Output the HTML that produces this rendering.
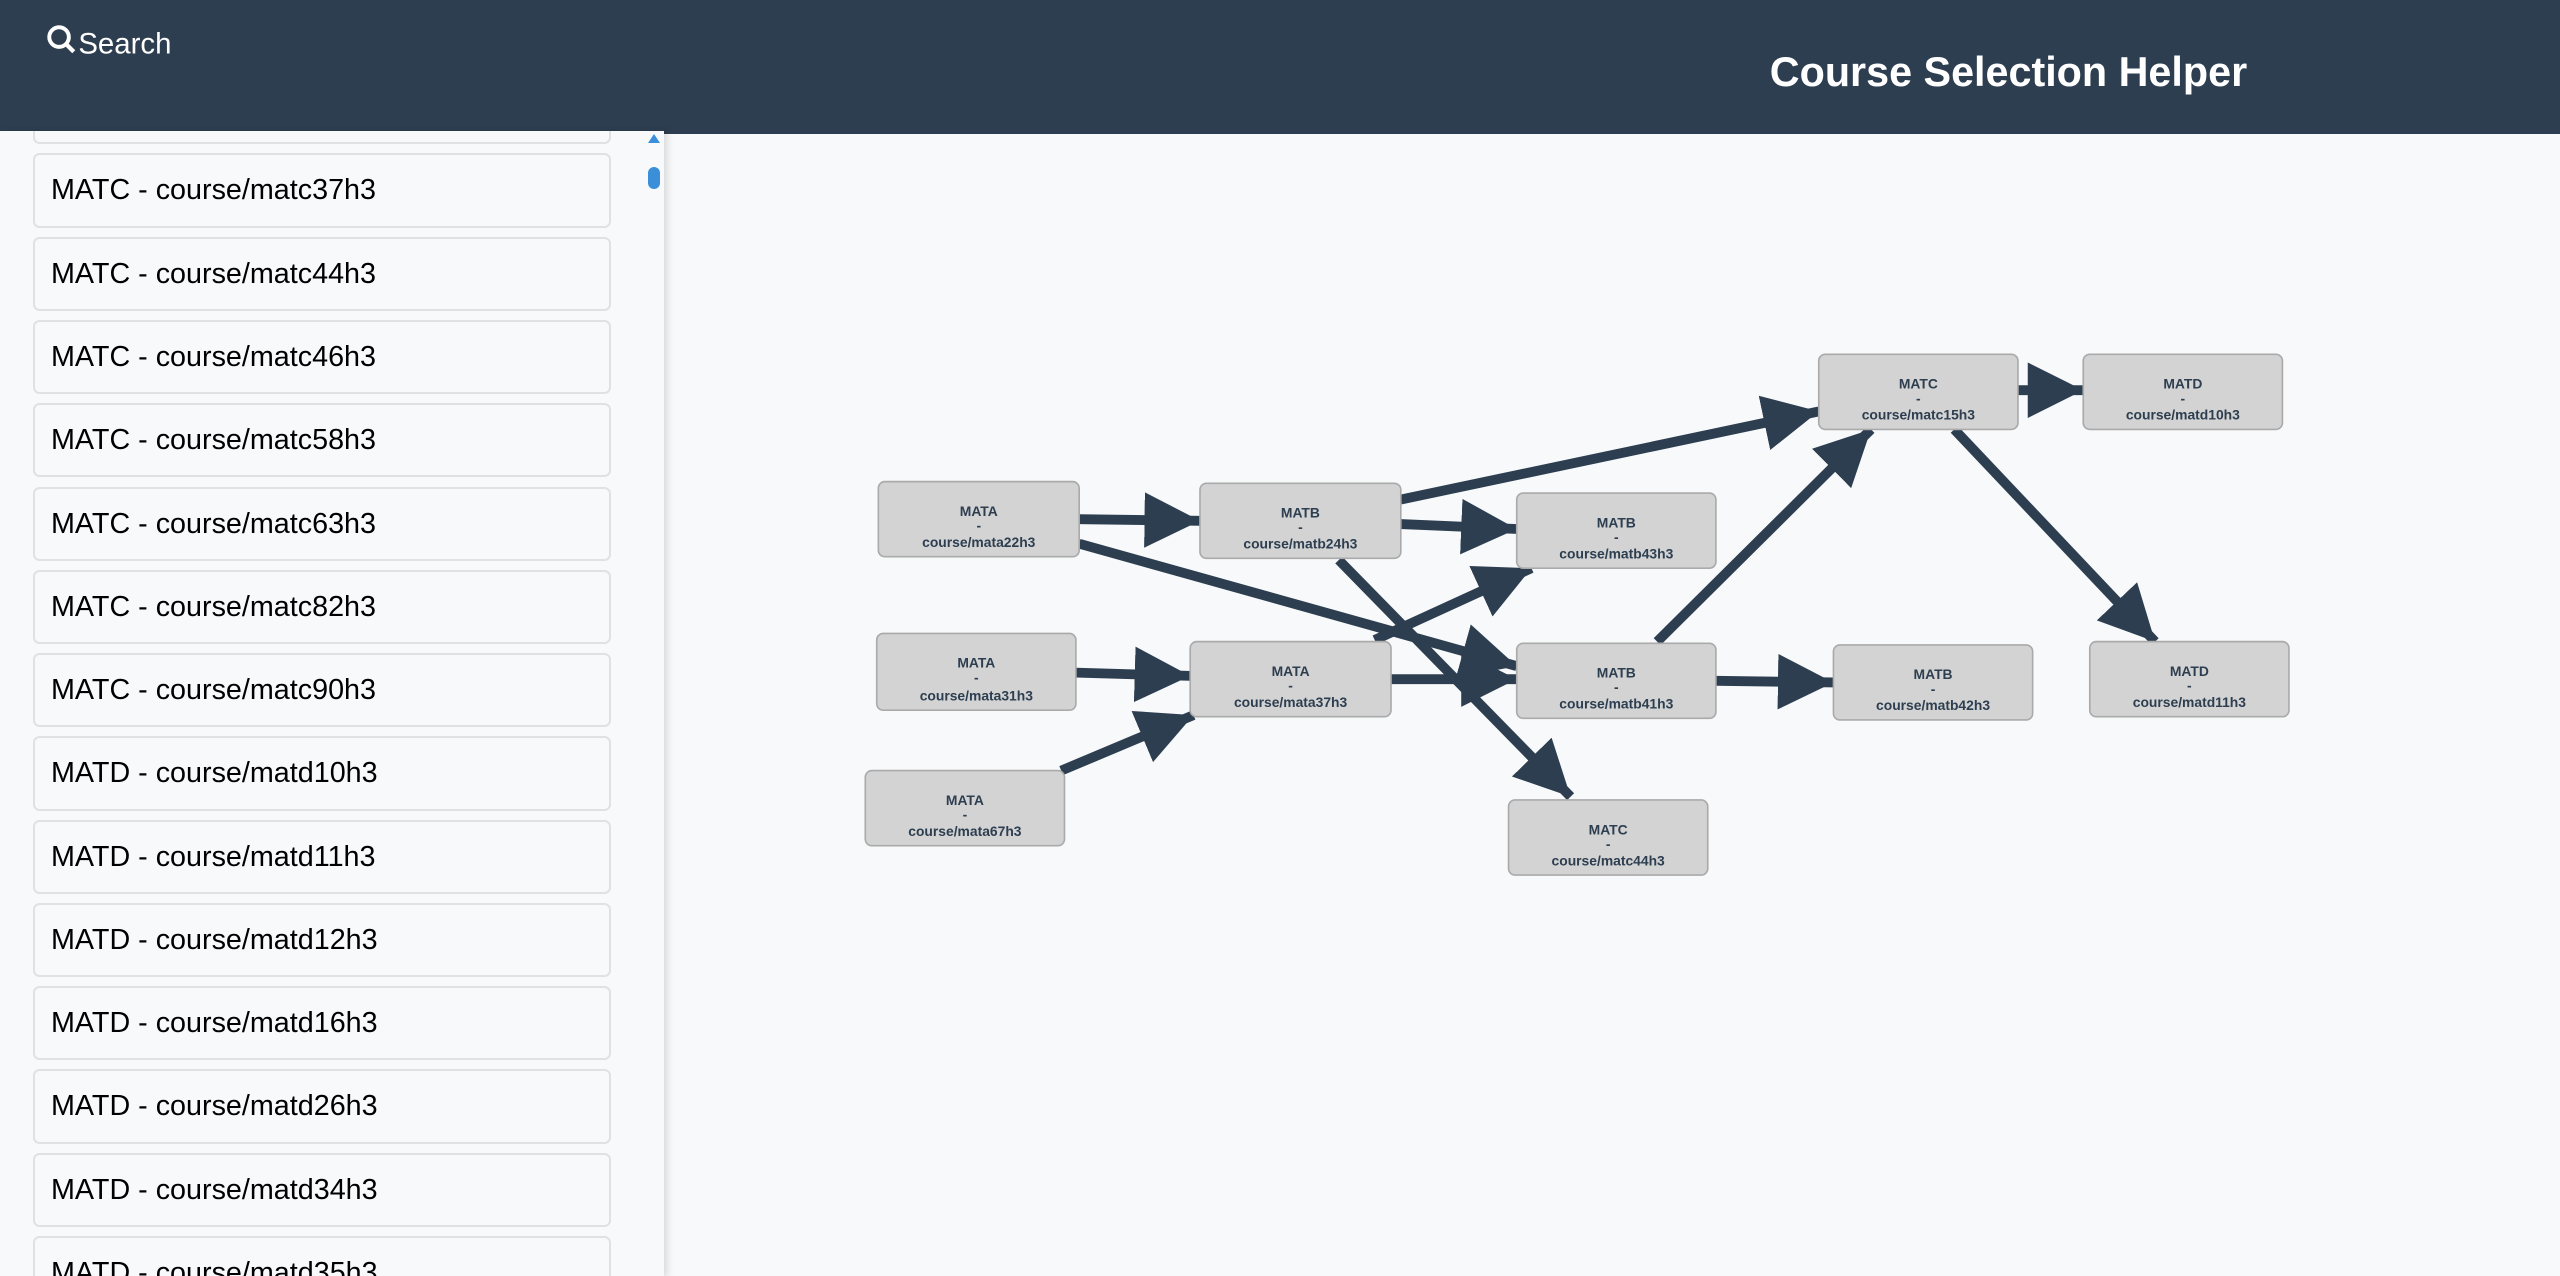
<!DOCTYPE html>
<html><head><meta charset="utf-8"><style>
html,body{margin:0;padding:0;width:2560px;height:1276px;overflow:hidden;background:#f7f9fa;font-family:"Liberation Sans",sans-serif}
#root{position:relative;width:1568px;height:782px;zoom:1.63265;background:#f7f9fa}
#hdr{position:absolute;left:0;top:0;width:1568px;height:82px;background:#2d3e50}
#search{position:absolute;left:28px;top:15px;color:#fff;font-size:18px}
#title{position:absolute;left:1084px;top:30px;color:#fff;font-size:25.3px;font-weight:bold}
#side{position:absolute;left:0;top:80px;width:407px;height:702px;background:#f7f9fa;box-shadow:2px 0 4px rgba(0,0,0,.12);overflow:hidden}
.it{position:absolute;left:20px;width:342px;height:43px;border:1.5px solid #dfe1e5;border-radius:4px;background:#f8f9fa;font-size:17.6px;line-height:43px;color:#000;padding-left:10px;box-sizing:content-box}
#thumb{position:absolute;left:397px;top:102px;width:7px;height:14px;background:#3a8fd8;border-radius:4px}
#tri{position:absolute;left:397px;top:82px;width:0;height:0;border-left:4px solid transparent;border-right:4px solid transparent;border-bottom:6px solid #3a8fd8}
svg{position:absolute;left:0;top:0}
.n{fill:#d3d3d3;stroke:#aaa;stroke-width:1}
.t{font-family:"Liberation Sans",sans-serif;font-size:8.5px;font-weight:bold;fill:#2d3e50;text-anchor:middle}
</style></head><body><div id="root">
<div id="hdr"></div>
<div id="search"><svg width="20" height="20" style="position:relative;display:inline-block;vertical-align:-2px"><circle cx="8" cy="8" r="6" fill="none" stroke="#fff" stroke-width="2.4"/><line x1="12.5" y1="12.5" x2="17" y2="17" stroke="#fff" stroke-width="2.6"/></svg>Search</div>
<div id="title">Course Selection Helper</div>
<div id="side">
<div class="it" style="top:-37px"></div>
<div class="it" style="top:14px">MATC - course/matc37h3</div>
<div class="it" style="top:65px">MATC - course/matc44h3</div>
<div class="it" style="top:116px">MATC - course/matc46h3</div>
<div class="it" style="top:167px">MATC - course/matc58h3</div>
<div class="it" style="top:218px">MATC - course/matc63h3</div>
<div class="it" style="top:269px">MATC - course/matc82h3</div>
<div class="it" style="top:320px">MATC - course/matc90h3</div>
<div class="it" style="top:371px">MATD - course/matd10h3</div>
<div class="it" style="top:422px">MATD - course/matd11h3</div>
<div class="it" style="top:473px">MATD - course/matd12h3</div>
<div class="it" style="top:524px">MATD - course/matd16h3</div>
<div class="it" style="top:575px">MATD - course/matd26h3</div>
<div class="it" style="top:626px">MATD - course/matd34h3</div>
<div class="it" style="top:677px">MATD - course/matd35h3</div>
</div>
<div id="tri"></div><div id="thumb"></div>
<svg width="1568" height="782" viewBox="0 0 1568 782" style="pointer-events:none">
<defs><marker id="a" markerUnits="userSpaceOnUse" markerWidth="36" markerHeight="36" refX="34" refY="17" orient="auto"><path d="M0,0 L34,17 L0,34 Z" fill="#2d3e50"/></marker></defs>
<g stroke="#2d3e50" stroke-width="6" marker-end="url(#a)">
<line x1="661" y1="318" x2="735" y2="319"/>
<line x1="661" y1="333" x2="929" y2="408"/>
<line x1="858" y1="321" x2="929" y2="324"/>
<line x1="858" y1="306" x2="1114" y2="252"/>
<line x1="820" y1="343" x2="962" y2="488"/>
<line x1="659" y1="412" x2="729" y2="414"/>
<line x1="650" y1="472" x2="731" y2="438"/>
<line x1="842" y1="392" x2="938" y2="348"/>
<line x1="852" y1="416" x2="929" y2="416"/>
<line x1="1051" y1="417" x2="1123" y2="418"/>
<line x1="1015" y1="393" x2="1146" y2="263"/>
<line x1="1236" y1="239" x2="1276" y2="239"/>
<line x1="1197" y1="263" x2="1320" y2="393"/>
</g>
<g>
<rect class="n" x="538" y="295" width="123" height="46" rx="4"/><text class="t" x="599.5" y="316">MATA</text><text class="t" x="599.5" y="325">-</text><text class="t" x="599.5" y="335">course/mata22h3</text>
<rect class="n" x="735" y="296" width="123" height="46" rx="4"/><text class="t" x="796.5" y="317">MATB</text><text class="t" x="796.5" y="326">-</text><text class="t" x="796.5" y="336">course/matb24h3</text>
<rect class="n" x="929" y="302" width="122" height="46" rx="4"/><text class="t" x="990" y="323">MATB</text><text class="t" x="990" y="332">-</text><text class="t" x="990" y="342">course/matb43h3</text>
<rect class="n" x="537" y="388" width="122" height="47" rx="4"/><text class="t" x="598" y="409">MATA</text><text class="t" x="598" y="418">-</text><text class="t" x="598" y="429">course/mata31h3</text>
<rect class="n" x="729" y="393" width="123" height="46" rx="4"/><text class="t" x="790.5" y="414">MATA</text><text class="t" x="790.5" y="423">-</text><text class="t" x="790.5" y="433">course/mata37h3</text>
<rect class="n" x="929" y="394" width="122" height="46" rx="4"/><text class="t" x="990" y="415">MATB</text><text class="t" x="990" y="424">-</text><text class="t" x="990" y="434">course/matb41h3</text>
<rect class="n" x="1123" y="395" width="122" height="46" rx="4"/><text class="t" x="1184" y="416">MATB</text><text class="t" x="1184" y="425">-</text><text class="t" x="1184" y="435">course/matb42h3</text>
<rect class="n" x="530" y="472" width="122" height="46" rx="4"/><text class="t" x="591" y="493">MATA</text><text class="t" x="591" y="502">-</text><text class="t" x="591" y="512">course/mata67h3</text>
<rect class="n" x="924" y="490" width="122" height="46" rx="4"/><text class="t" x="985" y="511">MATC</text><text class="t" x="985" y="520">-</text><text class="t" x="985" y="530">course/matc44h3</text>
<rect class="n" x="1114" y="217" width="122" height="46" rx="4"/><text class="t" x="1175" y="238">MATC</text><text class="t" x="1175" y="247">-</text><text class="t" x="1175" y="257">course/matc15h3</text>
<rect class="n" x="1276" y="217" width="122" height="46" rx="4"/><text class="t" x="1337" y="238">MATD</text><text class="t" x="1337" y="247">-</text><text class="t" x="1337" y="257">course/matd10h3</text>
<rect class="n" x="1280" y="393" width="122" height="46" rx="4"/><text class="t" x="1341" y="414">MATD</text><text class="t" x="1341" y="423">-</text><text class="t" x="1341" y="433">course/matd11h3</text>
</g>
</svg>
</div></body></html>
